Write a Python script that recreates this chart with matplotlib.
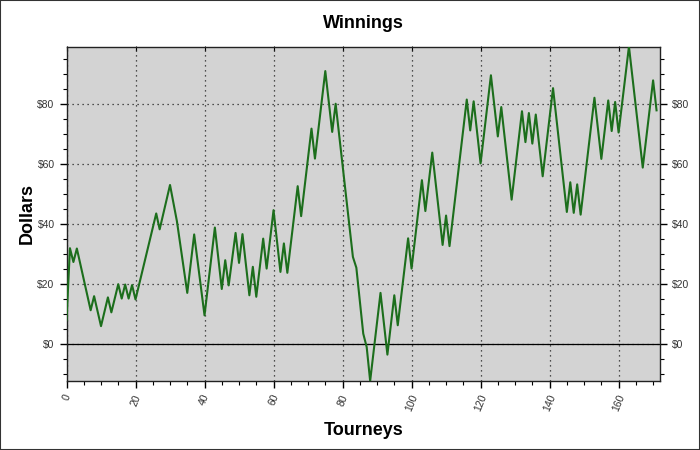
import matplotlib
matplotlib.use("Agg")
import matplotlib.pyplot as plt
from matplotlib.ticker import MultipleLocator, FuncFormatter
from matplotlib.patches import Rectangle

# Vertices of the winnings line (tourney index, dollars)
tourneys = [0, 1, 2, 3, 7, 8, 10, 12, 13, 15, 16, 17, 18, 19, 20, 26, 27, 30, 32, 35,
            37, 40, 43, 45, 46, 47, 49, 50, 51, 53, 54, 55, 57, 58, 60, 62, 63, 64, 67, 68,
            71, 72, 75, 77, 78, 83, 84, 86, 87, 88, 91, 93, 95, 96, 99, 100, 103, 104, 106, 109,
            110, 111, 116, 117, 118, 120, 123, 125, 126, 129, 132, 133, 134, 135, 136, 138, 141, 145, 146, 147,
            148, 149, 153, 155, 157, 158, 159, 160, 163, 167, 170, 171]
dollars = [8, 32, 27.4, 31.9, 11.3, 16, 6, 15.6, 10.6, 20, 15.2, 19.9, 15.2, 19.7, 14.9, 43.6, 38.3, 53.1, 41, 17.1,
           36.6, 9.6, 38.9, 18.4, 28, 19.6, 37.1, 27.1, 36.7, 16.3, 25.8, 15.8, 35.2, 25.2, 44.7, 24.1, 33.6, 23.8, 52.7, 42.7,
           71.9, 61.9, 91.1, 70.8, 80.2, 29.1, 25.5, 3.5, -1, -12.3, 17.1, -3.5, 16.3, 6.3, 35.3, 25.2, 54.7, 44.4, 63.9, 33.1,
           42.9, 32.7, 81.6, 71.3, 81.0, 60.3, 89.7, 69.3, 79.1, 48.2, 77.7, 67.4, 77.1, 66.9, 76.6, 56, 85.4, 44.1, 54, 43.8,
           53.3, 43.2, 82.2, 61.8, 81.3, 71.1, 80.8, 70.6, 99.3, 58.9, 88, 78]

x_ticks = [0, 20, 40, 60, 80, 100, 120, 140, 160]
y_ticks = [0, 20, 40, 60, 80]

plt.rcParams['font.family'] = ['Liberation Sans', 'DejaVu Sans']

fig = plt.figure(figsize=(7, 4.5), dpi=100)
fig.patches.append(Rectangle((0, 0), 1, 1, transform=fig.transFigure, fill=False,
                             edgecolor='#333333', linewidth=1.5, zorder=10))
ax = fig.add_axes([66.5 / 700, 1 - 381 / 450, (660 - 66.5) / 700, (381 - 46.5) / 450])
ax.set_facecolor('#d3d3d3')

ax.plot(tourneys, dollars, color='#1c6e1c', linewidth=1.5, zorder=3)
ax.axhline(0, color='black', linewidth=0.9, zorder=2)

ax.set_xlim(0, 172)
ax.set_ylim(min(dollars), max(dollars))

ax.set_xticks(x_ticks)
ax.set_yticks(y_ticks)
ax.xaxis.set_minor_locator(MultipleLocator(5))
ax.yaxis.set_minor_locator(MultipleLocator(5))
ax.yaxis.set_major_formatter(FuncFormatter(lambda v, p: f"${v:.0f}"))

ax.grid(True, which='major', linestyle=(0, (1, 3)), color='#222222', linewidth=0.9)

ax.tick_params(which='both', direction='out', colors='black', labelcolor='#333333',
               labelsize=7.5, top=True, right=True, labelright=True)
ax.tick_params(axis='x', which='both', top=False)
ax.tick_params(which='major', length=5, width=1)
ax.tick_params(which='minor', length=3, width=0.8)
sec = ax.secondary_xaxis('top')
sec.tick_params(which='both', direction='in', labeltop=False)
sec.spines['top'].set_visible(False)
for lab in ax.get_xticklabels():
    lab.set_rotation(68)
    lab.set_ha('center')
    lab.set_va('top')

for s in ax.spines.values():
    s.set_color('#222222')
    s.set_linewidth(1)

ax.set_title('Winnings', fontsize=13, fontweight='bold', pad=13.5)
ax.set_xlabel('Tourneys', fontsize=13, fontweight='bold', labelpad=7)
ax.set_ylabel('Dollars', fontsize=13, fontweight='bold', labelpad=1)

fig.savefig('out.png', dpi=100)
